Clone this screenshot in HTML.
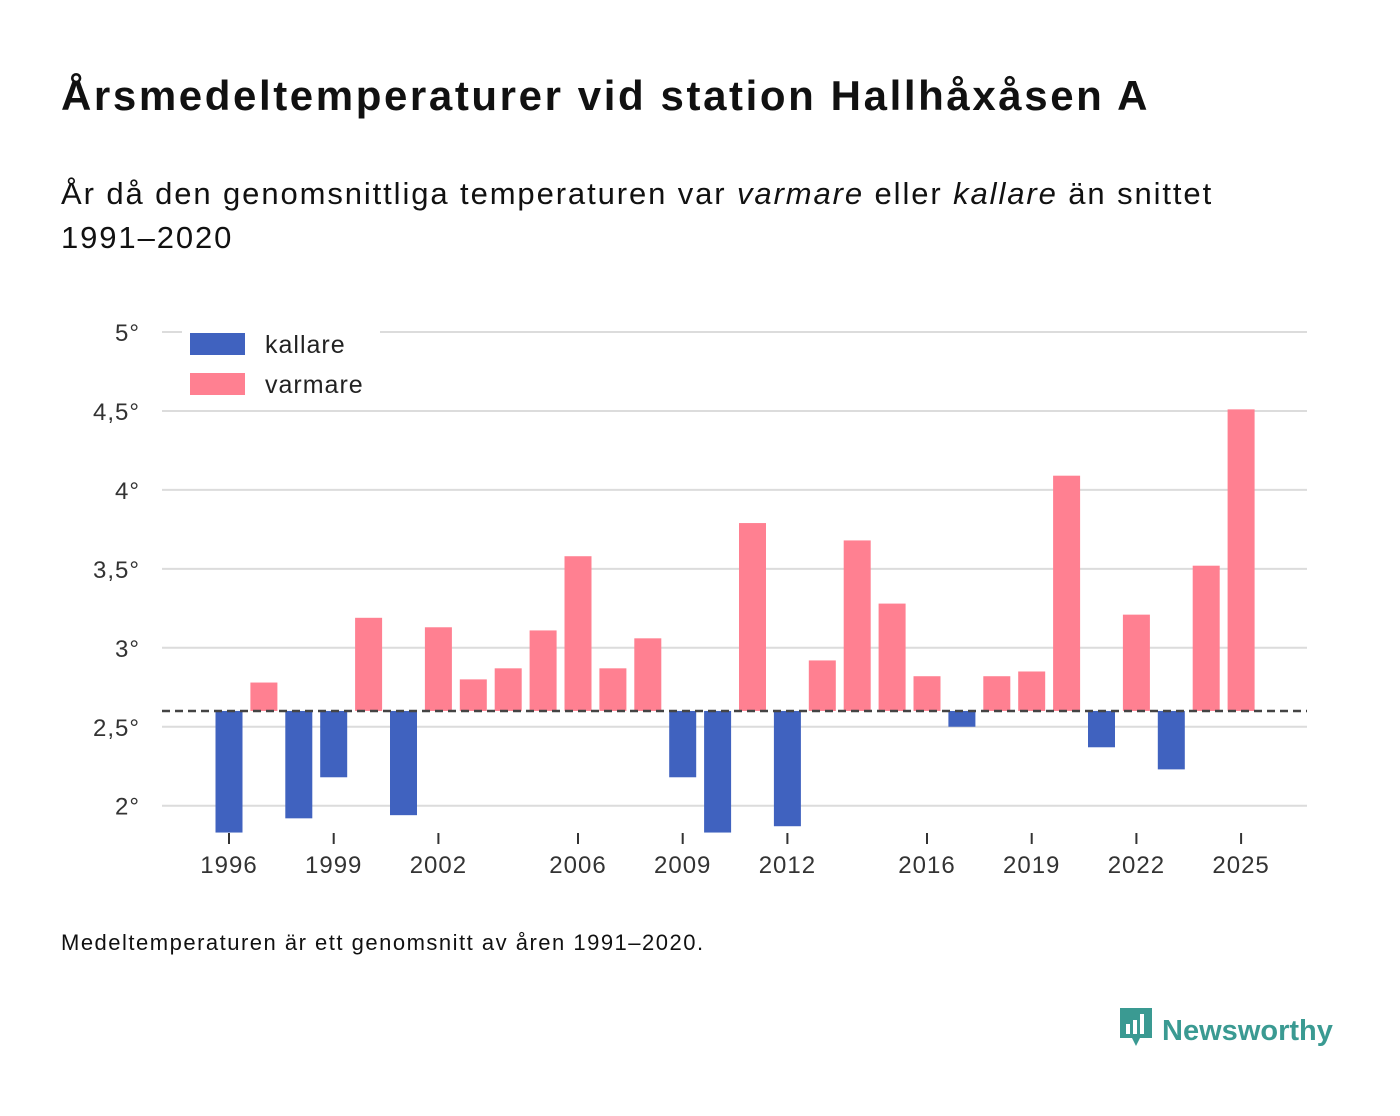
<!DOCTYPE html>
<html><head><meta charset="utf-8">
<style>
html,body{margin:0;padding:0;background:#fff;}
body{width:1400px;height:1116px;position:relative;font-family:"Liberation Sans","DejaVu Sans",sans-serif;color:#111;overflow:hidden;}
.t{position:absolute;left:61px;top:72px;font-size:42px;letter-spacing:2.6px;font-weight:bold;margin:0;}
.s{position:absolute;left:61px;top:172px;font-size:31px;letter-spacing:1.9px;line-height:44px;width:1330px;}
.f{position:absolute;left:61px;top:930px;font-size:22px;letter-spacing:1.5px;}
.logo{position:absolute;left:1118px;top:1006px;font-size:29px;font-weight:bold;color:#3a9a92;}
</style></head><body>
<h1 class="t">Årsmedeltemperaturer vid station Hallhåxåsen A</h1>
<div class="s">År då den genomsnittliga temperaturen var <i>varmare</i> eller <i>kallare</i> än snittet<br>1991–2020</div>
<svg id="chart" width="1400" height="1116" style="position:absolute;left:0;top:0" font-family="Liberation Sans, DejaVu Sans, sans-serif"></svg>
<div class="f">Medeltemperaturen är ett genomsnitt av åren 1991–2020.</div>
<div class="logo"><svg width="36" height="42" viewBox="0 0 36 42" style="vertical-align:-8px"><path d="M2 2h32v30H22l-4 8-4-8H2z" fill="#3a9a92"/><rect x="8" y="18" width="4" height="10" fill="#fff"/><rect x="15" y="14" width="4" height="14" fill="#fff"/><rect x="22" y="8" width="4" height="20" fill="#fff"/></svg> Newsworthy</div>
<script>
const years=[1996,1997,1998,1999,2000,2001,2002,2003,2004,2005,2006,2007,2008,2009,2010,2011,2012,2013,2014,2015,2016,2017,2018,2019,2020,2021,2022,2023,2024,2025];
const temps=[1.83,2.78,1.92,2.18,3.19,1.94,3.13,2.80,2.87,3.11,3.58,2.87,3.06,2.18,1.83,3.79,1.87,2.92,3.68,3.28,2.82,2.50,2.82,2.85,4.09,2.37,3.21,2.23,3.52,4.51];
const yTicks=[2,2.5,3,3.5,4,4.5,5];
const xTickYears=[1996,1999,2002,2006,2009,2012,2016,2019,2022,2025];
const baseline=2.6;
const svg=document.getElementById('chart');
const NS='http://www.w3.org/2000/svg';
const y=v=>332+(5-v)*157.9;
const x=yr=>229+(yr-1996)*34.9;
function mk(t,a,txt){const e=document.createElementNS(NS,t);for(const k in a)e.setAttribute(k,a[k]);if(txt!=null)e.textContent=txt;svg.appendChild(e);return e;}
yTicks.forEach(v=>{
 const g=mk('line',{x1:162,x2:1307,y1:y(v),y2:y(v),stroke:'#dcdcdc','stroke-width':2});
 
 
 const l=mk('text',{x:140,y:y(v)+9,'text-anchor':'end','font-size':24,'letter-spacing':1,fill:'#333'},String(v).replace('.',',')+'°');
 
 
});
years.forEach((yr,i)=>{
 const v=temps[i];const top=y(Math.max(v,baseline)),bot=y(Math.min(v,baseline));
 const r=mk('rect',{x:x(yr)-13.5,y:top,width:27,height:Math.max(bot-top,1),fill:v>=baseline?'#ff8091':'#4062bf'});
 
 
});
xTickYears.forEach(yr=>{
 const t=mk('line',{x1:x(yr),x2:x(yr),y1:833,y2:844,stroke:'#333','stroke-width':2});
 
 
 const l=mk('text',{x:x(yr),y:873,'text-anchor':'middle','font-size':24,'letter-spacing':1,fill:'#333'},yr);
 
 
});
const bl=mk('line',{x1:162,x2:1307,y1:y(baseline),y2:y(baseline),stroke:'#444','stroke-width':2.5,'stroke-dasharray':'8,5'});


const lg=mk('rect',{x:182,y:330,width:198,height:80,fill:'#fff'});


[['kallare','#4062bf',344],['varmare','#ff8091',384]].forEach(([n,c,yy])=>{
 const s=mk('rect',{x:190,y:yy-11,width:55,height:22,fill:c});
 
 
 const t=mk('text',{x:265,y:yy+9,'font-size':25,'letter-spacing':1,fill:'#222'},n);
 
 
});
</script>
</body></html>
